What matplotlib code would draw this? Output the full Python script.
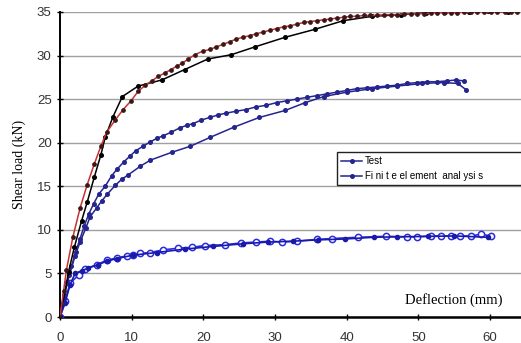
import matplotlib
matplotlib.use('Agg')
import matplotlib.pyplot as plt

# red finite element curve (top)
red_x = [0, 0.5, 0.9, 1.8, 2.8, 3.8, 4.8, 5.7, 6.5, 7.7, 8.8, 9.9, 10.9, 11.9, 12.8,
         13.7, 14.6, 15.5, 16.3, 17.0, 17.9, 18.8, 19.9, 20.9, 21.8, 22.8, 23.7, 24.6,
         25.5, 26.5, 27.4, 28.3, 29.3, 30.2, 31.2, 32.1, 33.0, 34.0, 34.9, 35.8, 36.8,
         37.7, 38.6, 39.6, 40.5, 41.4, 42.4, 43.3, 44.2, 45.2, 46.1, 47.0, 48.0, 48.9,
         49.8, 50.8, 51.7, 52.6, 53.6, 54.5, 55.4, 56.4, 57.3, 58.2, 59.2, 60.1, 61.0,
         62.0, 62.9, 63.8]
red_y = [0, 3.0, 5.4, 9.2, 12.5, 15.2, 17.6, 19.6, 21.2, 22.6, 23.8, 24.8, 25.9, 26.6,
         27.1, 27.6, 28.0, 28.4, 28.8, 29.1, 29.6, 30.1, 30.5, 30.7, 31.0, 31.3, 31.6,
         31.9, 32.1, 32.3, 32.5, 32.7, 32.9, 33.1, 33.3, 33.4, 33.6, 33.8, 33.9, 34.0,
         34.1, 34.2, 34.3, 34.4, 34.5, 34.5, 34.6, 34.6, 34.6, 34.7, 34.7, 34.7, 34.8,
         34.8, 34.8, 34.8, 34.9, 34.9, 34.9, 34.9, 34.9, 35.0, 35.0, 35.0, 35.0, 35.0,
         35.0, 35.0, 35.0, 35.0]

# black test curve (top)
blk_x = [0, 0.4, 1.2, 2.0, 3.0, 3.8, 4.8, 5.7, 6.3, 7.4, 8.7, 10.9, 14.2, 17.4, 20.6,
         23.9, 27.2, 31.4, 35.5, 39.5, 43.5, 47.5, 51.0, 53.7, 57.0, 59.7, 62.5]
blk_y = [0, 1.6, 5.2, 8.0, 11.0, 13.2, 16.1, 18.6, 20.6, 23.0, 25.3, 26.5, 27.2, 28.4,
         29.6, 30.1, 31.0, 32.1, 33.0, 34.0, 34.5, 34.7, 34.9, 35.05, 35.0, 35.1, 35.0]

# middle pair
ub_x = [0, 0.5, 1.0, 1.6, 2.2, 2.8, 3.4, 4.0, 4.7, 5.4, 6.3, 7.2, 8.0, 8.9, 9.8, 10.6,
        11.6, 12.6, 13.5, 14.4, 15.5, 16.7, 17.7, 18.6, 19.7, 20.9, 22.1, 23.2, 24.5,
        25.9, 27.3, 28.8, 30.2, 31.6, 33.0, 34.4, 35.8, 37.2, 38.6, 40.0, 41.4, 42.8,
        44.2, 45.6, 47.0, 48.4, 49.8, 51.2, 52.6, 54.0, 55.2, 56.3]
ub_y = [0, 2.2, 4.0, 5.8, 7.5, 9.0, 10.5, 11.8, 13.0, 14.1, 15.0, 16.2, 17.0, 17.8,
        18.5, 19.1, 19.6, 20.1, 20.5, 20.8, 21.2, 21.7, 22.0, 22.2, 22.6, 22.9, 23.2,
        23.4, 23.6, 23.8, 24.1, 24.3, 24.6, 24.8, 25.0, 25.2, 25.4, 25.6, 25.8, 26.0,
        26.2, 26.3, 26.4, 26.5, 26.6, 26.8, 26.9, 27.0, 27.0, 27.1, 27.2, 27.1]
lb_x = [0, 0.6, 1.3, 2.1, 2.8, 3.6, 4.2, 5.1, 5.8, 6.6, 7.7, 8.6, 9.5, 11.2, 12.6,
        15.6, 18.2, 20.9, 24.3, 27.8, 31.4, 34.2, 36.8, 40.0, 43.5, 47.0, 50.5, 53.5,
        55.5, 56.6]
lb_y = [0, 2.5, 4.8, 7.0, 8.6, 10.2, 11.5, 12.5, 13.3, 14.1, 15.1, 15.8, 16.3, 17.3,
        18.0, 18.9, 19.6, 20.6, 21.8, 22.9, 23.7, 24.6, 25.3, 25.8, 26.2, 26.5, 26.8,
        26.9, 26.8, 26.1]

# bottom pair
oc_x = [0, 0.7, 1.4, 2.6, 3.5, 5.1, 6.5, 8.0, 9.3, 10.2, 11.2, 12.6, 14.4, 16.5, 18.4,
        20.2, 23.0, 25.3, 27.4, 29.3, 30.9, 33.0, 35.8, 37.9, 41.6, 45.5, 48.4, 49.8,
        51.7, 53.2, 54.6, 55.8, 57.3, 58.7, 60.1]
oc_y = [0, 1.8, 3.9, 4.8, 5.5, 6.0, 6.5, 6.8, 7.0, 7.1, 7.3, 7.4, 7.7, 7.9, 8.0, 8.2,
        8.3, 8.5, 8.6, 8.7, 8.6, 8.7, 8.9, 9.0, 9.15, 9.26, 9.2, 9.2, 9.3, 9.3, 9.3,
        9.3, 9.3, 9.5, 9.3]
lf_x = [0, 0.7, 1.4, 2.1, 3.0, 3.9, 5.3, 6.5, 7.9, 10.2, 13.5, 17.5, 21.4, 25.5, 29.0,
        32.5, 36.0, 39.7, 43.8, 47.0, 51.3, 55.0, 59.7]
lf_y = [0, 1.6, 3.7, 5.0, 5.3, 5.6, 6.0, 6.4, 6.7, 7.1, 7.4, 7.8, 8.1, 8.4, 8.6, 8.7,
        8.85, 8.95, 9.15, 9.2, 9.25, 9.3, 9.15]

y_ticks = [0, 5, 10, 15, 20, 25, 30, 35]
x_ticks = [0, 10, 20, 30, 40, 50, 60]

navy = '#25258f'

fig = plt.figure(figsize=(5.21, 3.43), dpi=100)
ax = fig.add_axes([60 / 521, 26 / 343, 461 / 521, 305 / 343])

ax.plot(oc_x, oc_y, color='#2a2ae0', lw=1.2, marker='o', ms=4.5,
        mfc='white', mec='#2a2ae0', mew=1.1, zorder=3)
ax.plot(lf_x, lf_y, color='#1a1aa8', lw=1.2, marker='o', ms=3, zorder=4)
ax.plot(lb_x, lb_y, color=navy, lw=1.1, marker='o', ms=2.6, label='Test', zorder=3)
ax.plot(ub_x, ub_y, color=navy, lw=1.1, marker='o', ms=2.6,
        label='Fi ni t e el ement  anal ysi s', zorder=3)
ax.plot(blk_x, blk_y, color='black', lw=1.1, marker='o', ms=2.6, zorder=3)
ax.plot(red_x, red_y, color='#c83232', lw=1.1, marker='o', ms=2.4,
        mfc='#3a1818', mec='#3a1818', zorder=4)

ax.set_xlim(0, 64.3)
ax.set_ylim(0, 35)
ax.set_xticks(x_ticks)
ax.set_yticks(y_ticks)
ax.yaxis.grid(True, color='#a0a0a0', lw=1.0)
ax.set_axisbelow(True)

for s in ['top', 'right']:
    ax.spines[s].set_visible(False)
ax.spines['left'].set_linewidth(1.4)
ax.spines['bottom'].set_linewidth(1.8)

ax.tick_params(axis='x', direction='inout', length=5, width=1, pad=8,
               labelsize=9.5, labelcolor='#333333')
ax.tick_params(axis='y', direction='inout', length=4, width=1, pad=4,
               labelsize=9.5, labelcolor='#333333')
for lab in ax.get_xticklabels() + ax.get_yticklabels():
    lab.set_family('Liberation Sans')

ax.set_ylabel('Shear load (kN)', family='Liberation Serif', fontsize=10, labelpad=6)
ax.yaxis.set_label_coords(-0.073, 0.5)
fig.text(454 / 521, 1 - 300 / 343, 'Deflection (mm)', family='Liberation Serif',
         fontsize=10.5, ha='center', va='center')

leg = ax.legend(loc='lower left', mode='expand', borderaxespad=0,
                bbox_to_anchor=(337 / 521, 1 - 185 / 343, 190 / 521, 35 / 343),
                bbox_transform=fig.transFigure, numpoints=1, handlelength=2.2,
                handletextpad=0.3, fancybox=False, framealpha=1,
                prop={'family': 'Liberation Sans', 'size': 7}, labelspacing=0.5)
leg.get_frame().set_edgecolor('#222222')
leg.get_frame().set_linewidth(1.0)

plt.savefig('out.png', dpi=100)
